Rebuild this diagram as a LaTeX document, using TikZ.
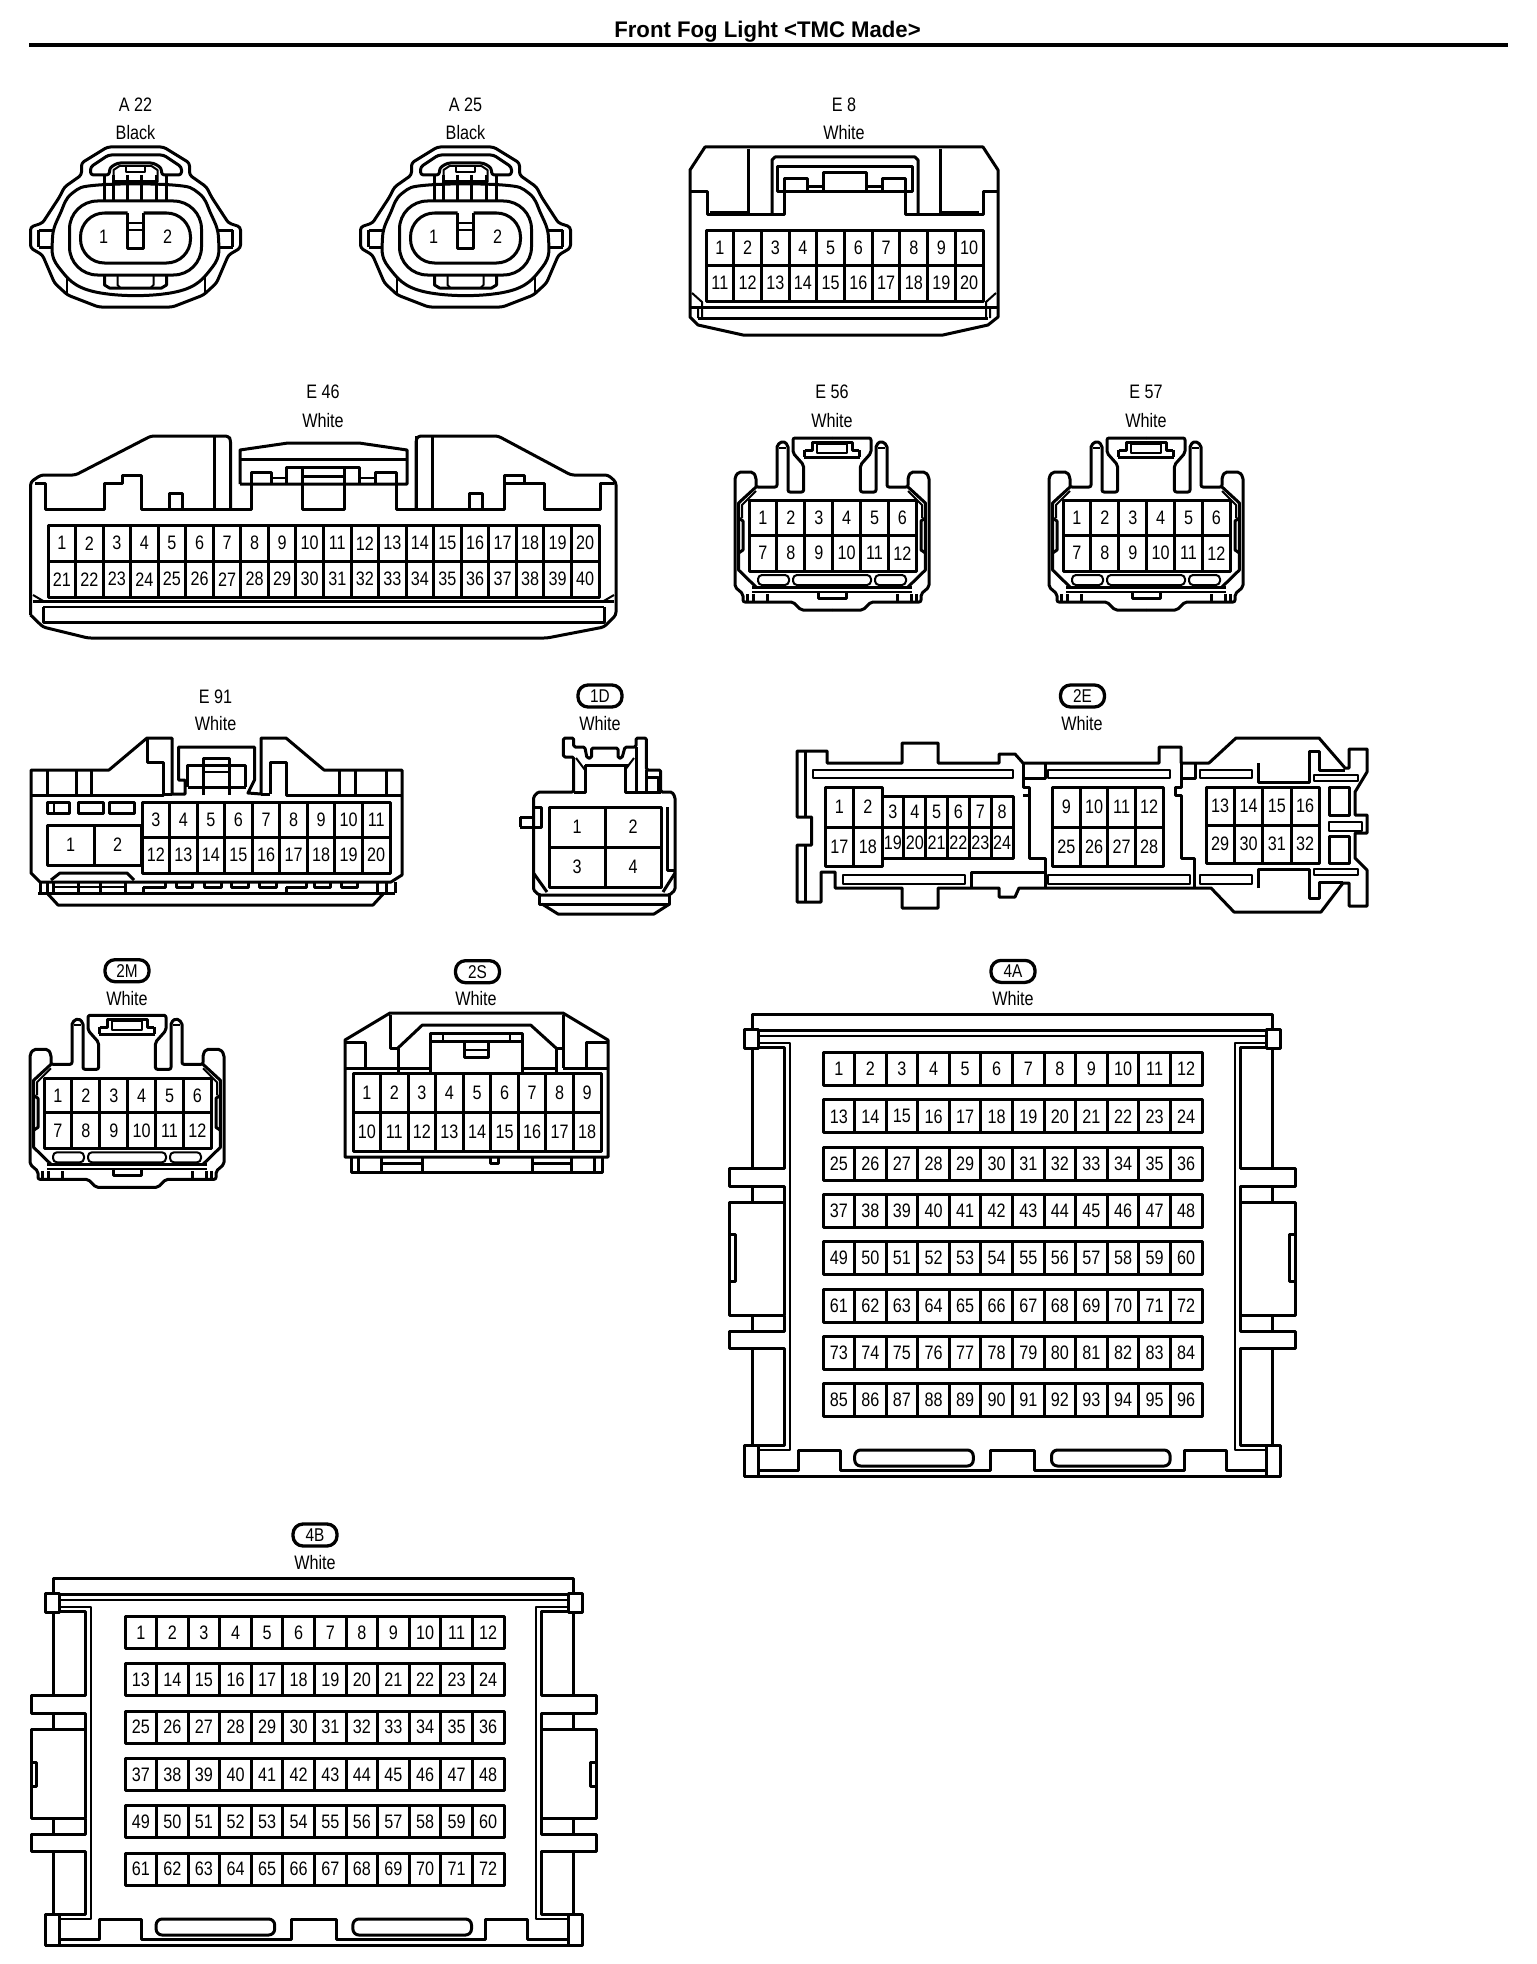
\documentclass[tikz,border=0pt]{standalone}
\usepackage{fontspec}
\newfontfamily\lblfont[FakeStretch=0.83]{Liberation Sans}
\newfontfamily\ttlfont[FakeStretch=0.98]{Liberation Sans}
\tikzset{
  txt/.style={inner sep=0,outer sep=0,font={\lblfont\fontsize{19.5}{19.5}\selectfont}},
  pin/.style={draw,rectangle,inner sep=0,outer sep=0,font={\lblfont\fontsize{19.5}{19.5}\selectfont}},
  tagpill/.style={draw,rectangle,rounded corners=10pt,line width=3.3pt,minimum width=44pt,minimum height=22pt,inner sep=0,outer sep=0,font={\lblfont\fontsize{18.5}{18.5}\selectfont}},
  thinln/.style={line width=2pt},
  round4/.style={rounded corners=3pt}
}
% name x0 y0 x1 y1 ncols first
\newcommand\pinrow[7]{%
  \pgfmathsetmacro\pinW{(#4-#2)/#6}%
  \pgfmathsetmacro\pinH{#5-#3}%
  \pgfmathsetmacro\pinY{(#3+#5)/2}%
  \foreach \i in {1,...,#6}{%
    \pgfmathtruncatemacro\pinN{#7+\i-1}%
    \pgfmathsetmacro\pinX{#2+(\i-0.5)*\pinW}%
    \node[pin,minimum width=\pinW pt,minimum height=\pinH pt] (#1-\pinN) at (\pinX,\pinY) {\pinN};
  }%
}
% round two-pin connector, centre x
\newcommand\aconn[2]{%
\begin{scope}[shift={(#2,0)}]
  \draw[rounded corners=3pt] (-28,147)--(28,147)--(54,163)--(54,175)--(71,187)--(76,197)--(93,223)--(105,227)--(105,248)--(93,255)--(81,283)--(68,295)--(37,307)--(-37,307)--(-68,295)--(-81,283)--(-93,255)--(-105,248)--(-105,227)--(-93,223)--(-76,197)--(-71,187)--(-54,175)--(-54,163)--cycle;
  \draw[round4] (-45,175)--(-45,167)--(-27,155)--(28,155)--(46,167)--(46,175)--(26,175)--(26,168)--(18,163)--(-18,163)--(-26,168)--(-26,175)--cycle;
  \draw[thinln] (-22,182)--(-22,170)--(-16,166)--(16,166)--(22,170)--(22,182);
  \draw[thinln] (-10,165)--(-10,172)--(9,172)--(9,165);
  \foreach \vx in {-31,-22,-8,6,21,31}{\draw (\vx,175)--(\vx,200);}
  \draw (-22,182)--(22,182);
  \draw plot[smooth cycle,tension=.7] coordinates {(-37,185)(37,185)(63,193)(75,213)(83,238)(77,267)(40,292)(-40,292)(-77,267)(-83,238)(-75,213)(-63,193)};
  \draw[rounded corners=28pt] (-66,201) rectangle (66,275);
  \draw[rounded corners=24pt] (-8,213)--(-55,213)--(-55,263)--(55,263)--(55,213)--(8,213);
  \draw (-8,213)--(-8,248)--(8,248)--(8,213);
  \draw[thinln] (-8,223)--(8,223) (-8,230)--(8,230);
  \draw (-31,276)--(-31,285)--(-26,288)--(26,288)--(31,285)--(31,276);
  \draw[thinln] (-18,276)--(-18,285)--(-15,288) (18,276)--(18,285)--(15,288);
  \draw (-97,230)--(-83,230) (-97,247)--(-83,247) (-97,230)--(-97,247);
  \draw (97,230)--(83,230) (97,247)--(83,247) (97,230)--(97,247);
  \draw[thinln] (-69,277)--(-69,295) (69,277)--(69,295);
  \node[txt] (pa#1-1) at (-32,237) {1};
  \node[txt] (pa#1-2) at (32,237) {2};
\end{scope}}
% half of the small 12-pin shell, mirrored about x=832
\newcommand\halfsmall{%
  \draw[rounded corners=2pt] (832,438)--(793,438)--(793,453)--(803.6,465)--(803.6,492)--(788,492)--(788,445)--(783,441)--(777,445)--(777,487)--(756,487)--(756,477)--(753,472)--(738.6,472)--(735,477)--(735,587)--(743,594)--(743,602)--(793,602)--(801,610)--(832,610);
  \draw (803.6,457)--(832,457) (804.6,450)--(804.6,457) (804.6,450)--(812,450)--(812,442)--(832,442);
  \draw[thinln] (817,444)--(817,453)--(832,453) (817,444)--(832,444) (779,448)--(786,448);
  \draw (756,487)--(738.6,503)--(738.6,570)--(756,587);
  \draw[thinln] (756,491)--(742,505)--(742,518);
  \draw (738.6,518)--(743,521)--(743,550)--(738.6,553);
  \draw[rounded corners=4pt,thinln] (758,575) rectangle (789,585);
  \draw (752,587)--(832,587);
  \draw[thinln] (752,592)--(832,592);
  \draw (747.5,594)--(747.5,602) (753,594)--(753,602) (767,594)--(767,602);
  \draw (818,593)--(818,598)--(832,598);
}
\newcommand\smallconn[3]{%
\begin{scope}[shift={(#2,#3)}]
  \halfsmall
  \begin{scope}[shift={(1664,0)},xscale=-1]\halfsmall\end{scope}
  \draw[rounded corners=4pt,thinln] (793,575) rectangle (871,585);
  \pinrow{#1}{749}{500.7}{916.4}{535.5}{6}{1}
  \pinrow{#1}{749}{535.5}{916.4}{571}{6}{7}
\end{scope}}
% half of the large shell: T E F I1 I2 B
\newcommand\halfbig[6]{%
  \draw (1012.4,#1)--(752.5,#1)--(752.5,#1+15);
  \draw (744,#1+15)--(758,#1+15)--(758,#1+34)--(744,#1+34)--cycle;
  \draw (758,#1+16)--(1012.4,#1+16);
  \draw[thinln] (758,#1+22)--(1012.4,#1+22);
  \draw[thinln] (758,#1+29)--(790,#1+29)--(790,#6-26)--(758,#6-26);
  \draw (758,#1+33)--(784.3,#1+33)--(784.3,#2)--(729.6,#2)--(729.6,#2+18)--(784.3,#2+18)--(784.3,#2+34)--(729.6,#2+34)--(729.6,#3)--(784.3,#3)--(784.3,#3+16)--(729.6,#3+16)--(729.6,#3+33)--(784.3,#3+33)--(784.3,#6-31)--(752.5,#6-31);
  \draw (752.5,#1+34)--(752.5,#2) (752.5,#2+18)--(752.5,#2+34) (752.5,#3)--(752.5,#3+16) (752.5,#3+33)--(752.5,#6-31);
  \draw (784.3,#2+34)--(784.3,#3);
  \draw (729.6,#4)--(735.3,#4)--(735.3,#5)--(729.6,#5);
  \draw (744,#6-31)--(758,#6-31)--(758,#6)--(744,#6)--cycle;
  \draw (744,#6)--(1012.4,#6);
  \draw (758,#6-5.3)--(798.5,#6-5.3)--(798.5,#6-26)--(840.5,#6-26)--(840.5,#6-5.3)--(990,#6-5.3)--(990,#6-26)--(1012.4,#6-26);
  \draw[rounded corners=6pt] (854.7,#6-26) rectangle (973.3,#6-10);
}
\begin{document}
\begin{tikzpicture}[x=1pt,y=-1pt,line width=3pt,line join=round]
\useasboundingbox (0,0) rectangle (1536,1964);
\fill[white] (0,0) rectangle (1536,1964);
% title
\node[inner sep=0,outer sep=0,font={\ttlfont\bfseries\fontsize{22.6}{22.6}\selectfont}] (title) at (767.5,32) {Front Fog Light <TMC Made>};
\draw[line width=4pt] (29,45)--(1508,45);
% A22, A25
\node[txt] (a22) at (135.5,105) {A 22};
\node[txt] (a22c) at (135.5,133) {Black};
\node[txt] (a25) at (465.5,105) {A 25};
\node[txt] (a25c) at (465.5,133) {Black};
\aconn{22}{135.5}
\aconn{25}{465.5}
% E8
\node[txt] (e8) at (844,105) {E 8};
\node[txt] (e8c) at (844,133) {White};
\draw (705,147)--(983,147)--(998,170)--(998,317)--(988,325)--(943,335)--(743,335)--(698,325)--(690,317)--(690,170)--cycle;
\draw (690,192)--(707,192)--(707,214)--(784,214)--(784,179)--(807,179)--(807,190);
\draw (998,192)--(983,192)--(983,214)--(905,214)--(905,179)--(882,179)--(882,190);
\draw (777,192)--(777,167)--(912,167)--(912,192)--cycle;
\draw (823,190)--(823,173)--(866,173)--(866,190);
\draw (807,187)--(823,187) (866,187)--(882,187);
\draw (772,214)--(772,160)--(775,157)--(915,157)--(918,160)--(918,214);
\draw (748,149)--(748,214) (940,149)--(940,214);
\draw[thinln] (710,212)--(748,212) (940,212)--(979,212);
\pinrow{pe8}{706}{230}{983}{265}{10}{1}
\pinrow{pe8}{706}{265}{983}{301}{10}{11}
\draw (690,307)--(998,307);
\draw (698,318)--(988,318);
\draw[thinln] (692,293)--(702,302)--(702,318) (698,307)--(698,318);
\draw[thinln] (996,293)--(986,302)--(986,318) (990,307)--(990,318);
% E46
\node[txt] (e46) at (323,392) {E 46};
\node[txt] (e46c) at (323,421) {White};
\draw[rounded corners=3pt] (30.6,615)--(30.6,482)--(41,475)--(75.5,475)--(151,436)--(228.6,436)--(230.6,440)--(230.6,508);
\draw[rounded corners=3pt] (416,508)--(416,440)--(418,436)--(498,436)--(571,475)--(608,475)--(616,482)--(616,615)--(604,627)--(547,638)--(88,638)--(43,627)--(30.6,615);
\draw (35,483)--(45,483)--(45,509)--(104,509)--(104,483)--(122,483)--(122,475)--(141,475)--(141,509)--(251,509)--(251,484);
\draw (122,483)--(122,475);
\draw (169,509)--(169,493)--(182,493)--(182,509);
\draw (214,436)--(214,509);
\draw (240,484)--(240,450)--(288,443)--(359,443)--(407,450)--(407,484)--(240,484);
\draw (240,459)--(407,459);
\draw (251,484)--(251,472)--(271,472)--(271,484);
\draw[thinln] (271,478)--(286,478) (359,478)--(375.5,478);
\draw (286,484)--(286,467)--(359,467)--(359,484);
\draw (375.5,484)--(375.5,472)--(396,472)--(396,484);
\draw (302,467)--(302,509)--(344,509)--(344,467);
\draw (302,476)--(344,476);
\draw (396,484)--(396,509)--(504,509)--(504,483)--(504,475)--(524.5,475)--(524.5,483)--(544,483)--(544,509)--(600,509)--(600,483)--(614,483);
\draw (504,483)--(524.5,483) (104,483)--(122,483);
\draw (416,508)--(416,436) (432.6,436)--(432.6,509);
\draw (469,509)--(469,493)--(482.4,493)--(482.4,509);
\pinrow{pe46}{48}{525}{599}{561.5}{20}{1}
\pinrow{pe46}{48}{561.5}{599}{597}{20}{21}
\draw (33,601)--(614,601);
\draw[thinln] (43,607)--(604,607);
\draw (43,607)--(43,622)--(604,622)--(604,607);
\draw[thinln] (33,595)--(45,602) (614,595)--(602,602);
% E56 E57
\node[txt] (e56) at (832,392) {E 56};
\node[txt] (e56c) at (832,421) {White};
\node[txt] (e57) at (1146,392) {E 57};
\node[txt] (e57c) at (1146,421) {White};
\smallconn{pe56}{0}{0}
\smallconn{pe57}{314}{0}
% E91
\node[txt] (e91) at (215.6,697) {E 91};
\node[txt] (e91c) at (215.6,724) {White};
\draw (31,873)--(31,770)--(109,770)--(147,738)--(172,738)--(172,794)--(185,794)--(185,780)--(178.6,780)--(178.6,747)--(254.5,747)--(254.5,780)--(248,793)--(261,794)--(261,738)--(286,738)--(324,770)--(402,770)--(402,875)--(391,882)--(40,882)--cycle;
\draw (31,795)--(163,795)--(163,762)--(147,762)--(147,738);
\draw (47,770)--(47,795) (76,770)--(76,795) (91.5,770)--(91.5,795);
\draw (355,770)--(355,795) (386,770)--(386,795) (339,770)--(339,795);
\draw (270,794)--(270,762)--(286,762)--(286,795)--(402,795);
\draw (172,794)--(163,794) (261,794)--(270,794);
\draw (187.5,787)--(187.5,765)--(245.5,765)--(245.5,787);
\draw (203,795)--(203,758)--(229,758)--(229,795);
\draw[thinln] (203,772)--(229,772);
\draw (187.5,787)--(245.5,787);
\draw (47,802) rectangle (69,813);
\draw[thinln] (53.5,802)--(53.5,813);
\draw (78,802) rectangle (103,813);
\draw (109,802) rectangle (134,813);
\pinrow{pe91}{47}{825}{141}{865}{2}{1}
\pinrow{pe91}{142}{802}{390}{837}{9}{3}
\pinrow{pe91}{142}{837}{390}{873}{9}{12}
\draw (51,880)--(60,873)--(127,873)--(134,880);
\draw (38,893)--(395,893);
\draw (47,893)--(58,905)--(373,905)--(384,893);
\draw (40,882)--(40,893) (47,882)--(47,893) (53.5,882)--(53.5,893);
\draw[thinln] (53.5,887)--(125,887);
\draw (78,882)--(78,893) (100,882)--(100,893) (125,882)--(125,893);
\draw (143,887)--(165,887)--(165,882);
\draw (176,882)--(176,887)--(192,887)--(192,882);
\draw (204,882)--(204,887)--(221,887)--(221,882);
\draw (231,882)--(231,887)--(248,887)--(248,882);
\draw (259,882)--(259,887)--(276,887)--(276,882);
\draw (286,887)--(306,887)--(306,882);
\draw (314,882)--(314,887)--(330,887)--(330,882);
\draw (341,882)--(341,887)--(357,887)--(357,882);
\draw (286,893)--(286,887) (143,887)--(143,893);
\draw (377,882)--(377,893) (386,882)--(386,893) (395,882)--(395,893);
% 1D
\node[tagpill] (t1d) at (600,696) {1D};
\node[txt] (t1dc) at (600,724) {White};
\draw[rounded corners=1.5pt] (533.5,890)--(533.5,797)--(538,792)--(573.7,792)--(573.7,757)--(563.4,757)--(563.4,738)--(573.7,738)--(573.7,747)--(584.8,747)--(587,758)--(591.5,758)--(591.5,748)--(618,748)--(618,758)--(622,758)--(625,747)--(636,747)--(636,738)--(646.4,738)--(646.4,770)--(660.7,770)--(660.7,792)--(672,792)--(675,797)--(675,890)--(669.6,895)--(539,895)--cycle;
\draw (636,747)--(636,792);
\draw (585,765)--(629,765);
\draw[thinln] (576,758)--(585,770) (634,758)--(625,770);
\draw (585,765)--(585,792)--(573.7,792);
\draw (625,765)--(625,792)--(660.7,792);
\draw (646.4,777)--(658.5,777)--(658.5,792) (646.4,770)--(646.4,792);
\draw (520,817)--(533.5,817) (520,827)--(533.5,827) (520,817)--(520,827);
\draw (533.5,807)--(541,807)--(541,827)--(533.5,827);
\draw (667.4,807)--(667.4,870)--(675,870);
\draw (533.5,873)--(547,892) (675,873)--(663,892);
\pinrow{p1d}{549}{807}{661}{847}{2}{1}
\pinrow{p1d}{549}{847}{661}{887}{2}{3}
\draw (539,895)--(539,904)--(669.6,904)--(669.6,895);
\draw (542,904)--(558,914)--(654,914)--(669.6,904);
% 2E
\node[tagpill] (t2e) at (1082.5,696) {2E};
\node[txt] (t2ec) at (1082,724) {White};
\draw (797,751)--(827,751)--(827,763)--(902,763)--(902,743)--(938,743)--(938,763)--(999,763)--(999,754)--(1015,754)--(1023,763)--(1159,763)--(1159,747)--(1181,747)--(1181,763)--(1209,763)--(1236,738)--(1319,738)--(1345,768)--(1349,768)--(1349,749)--(1367,749)--(1367,772)--(1355,792)--(1355,815)--(1367,815)--(1367,833)--(1355,833)--(1355,858)--(1367,870)--(1367,906)--(1349,906)--(1349,883)--(1343,883)--(1321,912)--(1234,912)--(1211,888)--(1019,888)--(1015,897)--(999,897)--(999,888)--(938,888)--(938,908)--(902,908)--(902,888)--(835,888)--(835,872)--(821,872)--(821,902)--(797,902)--(797,845)--(811.5,845)--(811.5,817)--(797,817)--cycle;
\draw (805.6,751)--(805.6,817) (805.6,845)--(805.6,902);
\draw[thinln] (812.7,770) rectangle (1013,778);
\draw[thinln] (843,875) rectangle (965,884);
\draw[thinln] (1048,770) rectangle (1170,778);
\draw[thinln] (1048,875) rectangle (1190,884);
\draw[thinln] (1200,770) rectangle (1252,778);
\draw[thinln] (1200,875) rectangle (1252,884);
\draw (1023,763)--(1023,778)--(1045,778)--(1045,763);
\draw (1181,763)--(1181,778)--(1195,778)--(1195,763);
\draw (1023,778)--(1023,787)--(1029,787)--(1029,795)--(1023,795);
\draw (1029,795)--(1029,858)--(1045,858)--(1045,888);
\draw (1181,778)--(1181,787)--(1175,787)--(1175,795)--(1181,795)--(1181,858)--(1194,858)--(1194,888);
\draw (971.6,888)--(971.6,872)--(1045,872);
\draw (1258,763)--(1258,782)--(1309.5,782)--(1309.5,751)--(1319,751)--(1319,770)--(1345,770);
\draw (1258,888)--(1258,869)--(1309.5,869)--(1309.5,898)--(1319,898)--(1319,882)--(1343,882);
\draw[thinln] (1313.5,775) rectangle (1358,781);
\draw[thinln] (1313.5,869) rectangle (1358,875);
\draw (1329,787) rectangle (1349,815);
\draw[thinln] (1329,822) rectangle (1362,831);
\draw (1329,836) rectangle (1349,863);
\pinrow{p2e}{825.3}{787}{882}{827}{2}{1}
\pinrow{p2e}{825.3}{827}{882}{866}{2}{17}
\pinrow{p2e}{882}{796}{1013}{827}{6}{3}
\pinrow{p2e}{882}{827}{1013}{858}{6}{19}
\pinrow{p2e}{1052.6}{787}{1163}{827}{4}{9}
\pinrow{p2e}{1052.6}{827}{1163}{866}{4}{25}
\pinrow{p2e}{1206}{787}{1319.4}{825}{4}{13}
\pinrow{p2e}{1206}{825}{1319.4}{863}{4}{29}
% 2M
\node[tagpill] (t2m) at (127,970.7) {2M};
\node[txt] (t2mc) at (127,999) {White};
\smallconn{p2m}{-705}{577.3}
% 2S
\node[tagpill] (t2s) at (477.5,971.7) {2S};
\node[txt] (t2sc) at (476,999) {White};
\draw (345,1157)--(345,1040)--(390,1013)--(563,1013)--(608,1040)--(608,1157)--cycle;
\pinrow{p2s}{353}{1073}{601}{1112}{9}{1}
\pinrow{p2s}{353}{1112}{601}{1151}{9}{10}
\draw (345,1068)--(398,1068);
\draw (345,1042)--(365,1042)--(365,1068);
\draw (608,1042)--(586,1042)--(586,1068);
\draw (563,1068)--(608,1068);
\draw (390,1015)--(390,1048)--(398,1048)--(398,1073);
\draw (563,1015)--(563,1048)--(556,1048)--(556,1073);
\draw (563,1048)--(563,1068);
\draw (398,1048)--(422.4,1025)--(530.6,1025)--(556,1048);
\draw (430.6,1073)--(430.6,1033)--(522.4,1033)--(522.4,1073);
\draw (430.6,1041)--(522.4,1041);
\draw[thinln] (443,1033)--(443,1041) (510,1033)--(510,1041);
\draw (464.5,1043)--(464.5,1057)--(488.5,1057)--(488.5,1043);
\draw[thinln] (464.5,1050)--(488.5,1050);
\draw (398,1068)--(430.6,1068) (522.4,1068)--(556,1068);
\draw (351,1157)--(351,1172)--(602,1172)--(602,1157);
\draw (358,1157)--(358,1172) (381.6,1157)--(381.6,1172) (422.4,1157)--(422.4,1172) (532,1157)--(532,1172) (571.4,1157)--(571.4,1172) (594,1157)--(594,1172);
\draw (381.6,1163)--(422.4,1163) (532,1163)--(571.4,1163);
\draw (490,1157)--(490,1163)--(498,1163)--(498,1157);
% 4A
\node[tagpill] (t4a) at (1013,971.4) {4A};
\node[txt] (t4ac) at (1013,999) {White};
\halfbig{1014}{1168}{1315}{1234}{1281}{1476}
\begin{scope}[shift={(2024.8,0)},xscale=-1]
\halfbig{1014}{1168}{1315}{1234}{1281}{1476}
\end{scope}
\foreach \r in {0,...,7}{
  \pgfmathsetmacro\rowT{1052.5+47.3*\r}
  \pgfmathsetmacro\rowB{\rowT+33}
  \pgfmathtruncatemacro\rowF{12*\r+1}
  \pinrow{p4a}{823}{\rowT}{1202}{\rowB}{12}{\rowF}
}
% 4B
\node[tagpill] (t4b) at (315,1535) {4B};
\node[txt] (t4bc) at (315,1562.7) {White};
\begin{scope}[shift={(-698.6,0)}]
\halfbig{1578}{1695}{1818}{1762}{1786}{1945}
\begin{scope}[shift={(2024.8,0)},xscale=-1]
\halfbig{1578}{1695}{1818}{1762}{1786}{1945}
\end{scope}
\end{scope}
\foreach \r in {0,...,5}{
  \pgfmathsetmacro\rowT{1616.5+47.3*\r}
  \pgfmathsetmacro\rowB{\rowT+32}
  \pgfmathtruncatemacro\rowF{12*\r+1}
  \pinrow{p4b}{125}{\rowT}{504}{\rowB}{12}{\rowF}
}
\end{tikzpicture}
\end{document}
